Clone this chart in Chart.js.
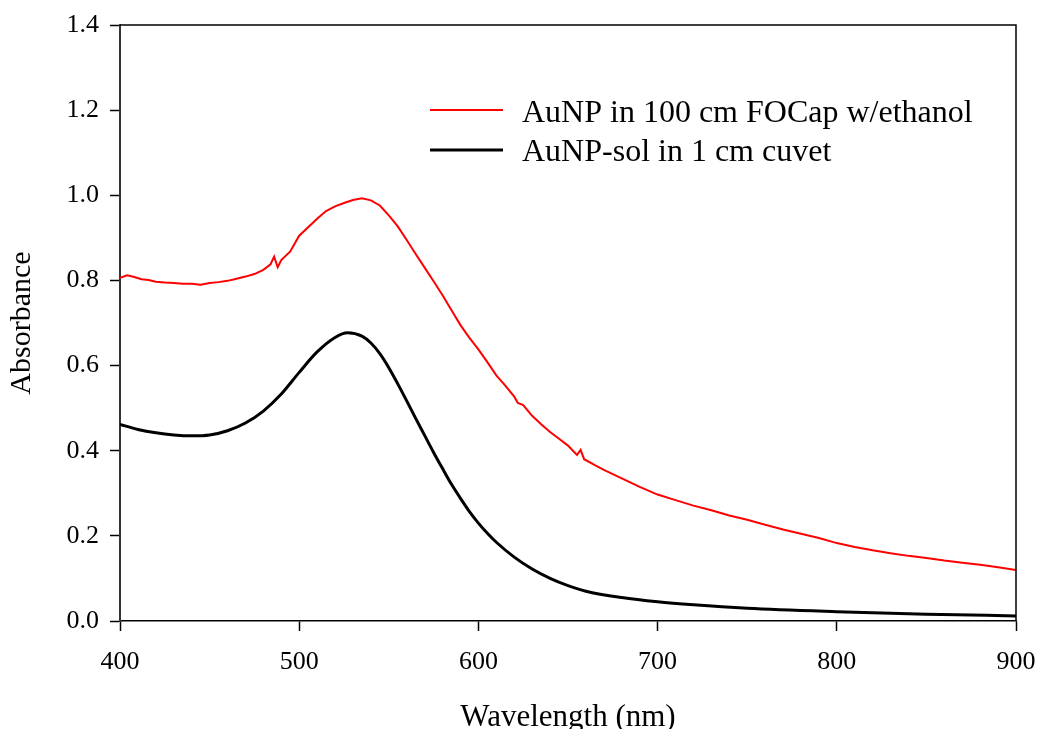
<!DOCTYPE html>
<html>
<head>
<meta charset="utf-8">
<script src="https://cdn.jsdelivr.net/npm/chart.js@4"></script>
<style>
  html, body { margin: 0; padding: 0; background: #fff; }
  #wrap { width: 1038px; height: 729px; }
</style>
</head>
<body>
<div id="wrap"><canvas id="spectrum"></canvas></div>
<script>
// AuNP in 100 cm FOCap w/ethanol (red, noisy)
const redWavelength = [400, 404, 408, 412, 416, 420, 425, 430, 435, 440, 445, 450, 455, 460, 465, 470, 475, 480, 484, 486, 488, 490, 495,
  500, 505, 510, 515, 520, 525, 530, 535, 540, 545, 550, 555, 560, 565, 570, 575, 580, 585, 590, 595,
  600, 605, 610, 615, 620, 622, 625, 630, 635, 640, 645, 650, 655, 657, 659, 665, 670, 680, 690,
  700, 710, 720, 730, 740, 750, 760, 770, 780, 790, 800, 810, 820, 830, 840, 850, 860, 870, 880, 890, 900];
const redAbs = [0.806, 0.812, 0.808, 0.803, 0.801, 0.797, 0.795, 0.794, 0.792, 0.792, 0.790, 0.794, 0.796, 0.799, 0.804, 0.809, 0.815, 0.825, 0.838, 0.856, 0.831, 0.848, 0.868,
  0.905, 0.925, 0.945, 0.963, 0.974, 0.982, 0.989, 0.993, 0.988, 0.976, 0.953, 0.927, 0.895, 0.862, 0.830, 0.798, 0.765, 0.730, 0.695, 0.665,
  0.638, 0.608, 0.577, 0.553, 0.527, 0.512, 0.507, 0.482, 0.462, 0.444, 0.428, 0.412, 0.390, 0.402, 0.380, 0.366, 0.355, 0.335, 0.315,
  0.297, 0.284, 0.271, 0.260, 0.248, 0.238, 0.226, 0.215, 0.205, 0.195, 0.183, 0.174, 0.166, 0.159, 0.153, 0.148, 0.142, 0.137, 0.132, 0.126, 0.120];

// AuNP-sol in 1 cm cuvet (black, smooth)
const blackWavelength = [400, 410, 420, 430, 440, 450, 460, 470, 480, 490, 500, 510, 520, 527, 535, 540, 545, 550, 555, 560, 565, 570, 575, 580, 585, 590, 595,
  600, 605, 610, 620, 630, 640, 650, 660, 680, 700, 720, 750, 800, 850, 900];
const blackAbs = [0.462, 0.450, 0.442, 0.437, 0.435, 0.437, 0.447, 0.465, 0.493, 0.533, 0.584, 0.632, 0.666, 0.677, 0.669, 0.653, 0.628, 0.595, 0.557, 0.517, 0.476, 0.436, 0.396, 0.358, 0.321, 0.288, 0.257,
  0.230, 0.206, 0.185, 0.150, 0.122, 0.100, 0.083, 0.070, 0.055, 0.045, 0.038, 0.030, 0.022, 0.016, 0.012];

const seriesNames = ["AuNP in 100 cm FOCap w/ethanol", "AuNP-sol in 1 cm cuvet"];
const seriesColors = ["#ff0000", "#000000"];

const xTicks = [400, 500, 600, 700, 800, 900];
const yTicks = [0.0, 0.2, 0.4, 0.6, 0.8, 1.0, 1.2, 1.4];

const serif = "'Liberation Serif', 'Times New Roman', serif";

function toPoints(xs, ys) {
  return xs.map((x, i) => ({ x: x, y: ys[i] }));
}

// top + right frame lines and the in-plot legend
const framePlugin = {
  id: "frame",
  afterDraw(chart) {
    const { ctx, chartArea: a } = chart;
    ctx.save();
    ctx.strokeStyle = "#000";
    ctx.lineWidth = 1.5;
    ctx.beginPath();
    ctx.moveTo(a.left, a.top);
    ctx.lineTo(a.right, a.top);
    ctx.lineTo(a.right, a.bottom);
    ctx.stroke();

    const rows = [
      { y: 110, base: 122, width: 2 },
      { y: 150, base: 161, width: 3 }
    ];
    ctx.font = "32px " + serif;
    ctx.fillStyle = "#000";
    ctx.textBaseline = "alphabetic";
    rows.forEach((r, i) => {
      ctx.strokeStyle = seriesColors[i];
      ctx.lineWidth = r.width;
      ctx.beginPath();
      ctx.moveTo(430, r.y);
      ctx.lineTo(503, r.y);
      ctx.stroke();
      ctx.fillText(seriesNames[i], 522, r.base);
    });
    ctx.restore();
  }
};

const ctx = document.getElementById("spectrum").getContext("2d");
new Chart(ctx, {
  type: "line",
  data: {
    datasets: [
      {
        label: seriesNames[0],
        data: toPoints(redWavelength, redAbs),
        borderColor: seriesColors[0],
        borderWidth: 2,
        pointRadius: 0,
        tension: 0,
        fill: false
      },
      {
        label: seriesNames[1],
        data: toPoints(blackWavelength, blackAbs),
        borderColor: seriesColors[1],
        borderWidth: 3,
        pointRadius: 0,
        cubicInterpolationMode: "monotone",
        fill: false
      }
    ]
  },
  options: {
    responsive: true,
    maintainAspectRatio: false,
    animation: false,
    layout: { padding: { top: 25, right: 22, left: 0, bottom: 0 } },
    plugins: {
      legend: { display: false },
      tooltip: { enabled: false }
    },
    scales: {
      x: {
        type: "linear",
        min: 400,
        max: 900,
        afterBuildTicks: s => { s.ticks = xTicks.map(v => ({ value: v })); },
        afterFit: s => { s.height = 108; s.paddingLeft = 0; s.paddingRight = 0; },
        ticks: {
          color: "#000",
          font: { family: serif, size: 26 },
          padding: 16,
          maxRotation: 0
        },
        grid: {
          drawOnChartArea: false,
          tickLength: 10,
          tickColor: "#000",
          tickWidth: 1.5
        },
        border: { color: "#000", width: 1.5 },
        title: {
          display: true,
          text: "Wavelength (nm)",
          color: "#000",
          font: { family: serif, size: 31, lineHeight: 0.7 },
          padding: 0
        }
      },
      y: {
        min: 0,
        max: 1.4,
        afterBuildTicks: s => { s.ticks = yTicks.map(v => ({ value: v })); },
        afterFit: s => { s.width = 120; s.paddingTop = 0; s.paddingBottom = 0; },
        ticks: {
          color: "#000",
          font: { family: serif, size: 26 },
          padding: 11,
          callback: v => v.toFixed(1)
        },
        grid: {
          drawOnChartArea: false,
          tickLength: 10,
          tickColor: "#000",
          tickWidth: 1.5
        },
        border: { color: "#333", width: 2 },
        title: {
          display: true,
          text: "Absorbance",
          color: "#000",
          font: { family: serif, size: 30, lineHeight: 1 },
          padding: { top: 7, bottom: 0 }
        }
      }
    }
  },
  plugins: [framePlugin]
});
</script>
</body>
</html>
